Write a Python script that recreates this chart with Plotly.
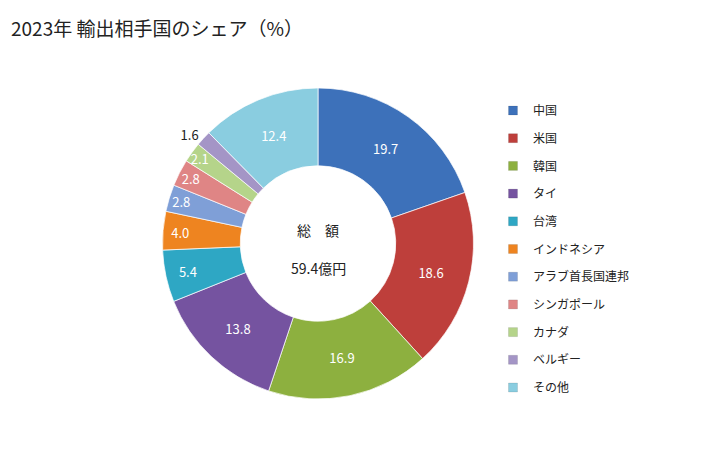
import plotly.graph_objects as go

labels = ["中国", "米国", "韓国", "タイ", "台湾", "インドネシア", "アラブ首長国連邦", "シンガポール", "カナダ", "ベルギー", "その他"]
values = [19.7, 18.6, 16.9, 13.8, 5.4, 4.0, 2.8, 2.8, 2.1, 1.6, 12.4]
colors = ["#3D71BA", "#BE3F3B", "#8DB03F", "#7553A0", "#2EA7C4", "#EE8420",
          "#7F9FD7", "#DF8585", "#B5D48A", "#A495C6", "#8ACDE0"]
title_text = "2023年 輸出相手国のシェア（%）"
center_label = "総　額"
total_label = "59.4億円"

FONT = "Noto Sans CJK JP"

positions = ["outside" if v < 2.0 else "inside" for v in values]
text_colors = ["#222222" if p == "outside" else "white" for p in positions]

fig = go.Figure()
fig.add_trace(go.Pie(
    labels=labels, values=values, sort=False, direction="clockwise", rotation=0,
    hole=0.5,
    marker=dict(colors=colors, line=dict(color="rgba(255,255,255,0.7)", width=1)),
    texttemplate="%{value:.1f}", textposition=positions,
    insidetextorientation="horizontal",
    textfont=dict(family=FONT, size=13, color=text_colors),
    showlegend=False, hoverinfo="label+value",
    domain=dict(x=[(318 - 156) / 728, (318 + 156) / 728], y=[(450 - 399) / 450, (450 - 88) / 450]),
))

for lab, col in zip(labels, colors):
    fig.add_trace(go.Scatter(
        x=[None], y=[None], mode="markers", name=lab, legendgroup=lab,
        marker=dict(symbol="square", size=9, color=col, line=dict(color="rgba(0,0,0,0.2)", width=0.5)),
    ))

fig.update_layout(
    width=728, height=450, margin=dict(l=0, r=0, t=0, b=0),
    paper_bgcolor="white", plot_bgcolor="white",
    xaxis=dict(visible=False), yaxis=dict(visible=False),
    font=dict(family=FONT, size=12, color="#222222"),
    uniformtext=dict(minsize=13, mode="show"),
    legend=dict(x=(533 - 40) / 728, y=(450 - 96) / 450, xanchor="left", yanchor="top",
                tracegroupgap=8.7, font=dict(family=FONT, size=12, color="#222222"),
                bgcolor="rgba(0,0,0,0)"),
    annotations=[
        dict(text=title_text, x=9 / 728, y=(450 - 28) / 450, xref="paper", yref="paper",
             xanchor="left", yanchor="middle", showarrow=False,
             font=dict(family=FONT, size=19, color="#222222")),
        dict(text=center_label, x=318 / 728, y=(450 - 230) / 450, xref="paper", yref="paper",
             xanchor="center", yanchor="middle", showarrow=False,
             font=dict(family=FONT, size=14, color="#222222")),
        dict(text=total_label, x=318 / 728, y=(450 - 268) / 450, xref="paper", yref="paper",
             xanchor="center", yanchor="middle", showarrow=False,
             font=dict(family=FONT, size=14, color="#222222")),
    ],
)

fig.write_html("out.html")
